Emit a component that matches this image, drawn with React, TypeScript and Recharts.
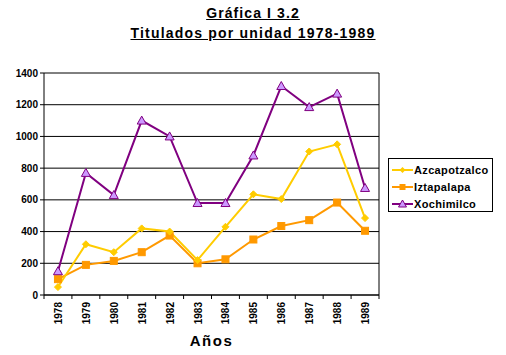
import React from "react";
import { LineChart, Line, XAxis, YAxis, CartesianGrid } from "recharts";

const years = ["1978","1979","1980","1981","1982","1983","1984","1985","1986","1987","1988","1989"];
const azcapotzalco = [50, 320, 270, 420, 400, 220, 430, 635, 605, 905, 950, 485];
const iztapalapa = [100, 190, 215, 270, 375, 200, 225, 350, 435, 472, 583, 405];
const xochimilco = [150, 770, 630, 1100, 1000, 580, 580, 880, 1318, 1185, 1270, 675];
const yTicks = [0, 200, 400, 600, 800, 1000, 1200, 1400];

const data = years.map((y, i) => ({
  year: y,
  Azcapotzalco: azcapotzalco[i],
  Iztapalapa: iztapalapa[i],
  Xochimilco: xochimilco[i],
}));

const FONT = "Arial, 'Liberation Sans', sans-serif";
const C_AZ = "#FFCC00";
const C_IZ = "#FF9900";
const C_XO = "#800080";
const C_XO_FILL = "#CC99FF";

const Diamond = (props: any) => {
  const { cx, cy } = props;
  if (cx == null || cy == null) return null;
  const r = 3.5;
  return <path d={`M${cx},${cy - r}L${cx + r},${cy}L${cx},${cy + r}L${cx - r},${cy}Z`} fill={C_AZ} stroke={C_AZ} strokeWidth={1} />;
};
const Square = (props: any) => {
  const { cx, cy } = props;
  if (cx == null || cy == null) return null;
  return <rect x={cx - 3.5} y={cy - 3.5} width={7} height={7} fill={C_IZ} stroke={C_IZ} />;
};
const Triangle = (props: any) => {
  const { cx, cy } = props;
  if (cx == null || cy == null) return null;
  return <path d={`M${cx},${cy - 4.5}L${cx + 4.5},${cy + 3.5}L${cx - 4.5},${cy + 3.5}Z`} fill={C_XO_FILL} stroke={C_XO} strokeWidth={1} />;
};

const XTick = (props: any) => {
  const { x, y, payload, index } = props;
  const half = payload?.offset ?? 14;
  return (
    <g>
      <line x1={x - half} y1={y - 8} x2={x - half} y2={y - 4} stroke="#000" />
      {index === years.length - 1 && (
        <line x1={x + half} y1={y - 8} x2={x + half} y2={y - 4} stroke="#000" />
      )}
      <text
        x={0}
        y={0}
        transform={`translate(${x + 4},${y - 1}) rotate(-90)`}
        textAnchor="end"
        fontFamily={FONT}
        fontWeight="bold"
        fontSize={10}
        fill="#000"
      >
        {payload.value}
      </text>
    </g>
  );
};

const legendItems = [
  { name: "Azcapotzalco", color: C_AZ, shape: "diamond" },
  { name: "Iztapalapa", color: C_IZ, shape: "square" },
  { name: "Xochimilco", color: C_XO, shape: "triangle" },
];

const LegendBox = () => (
  <div
    style={{
      position: "absolute",
      left: 388,
      top: 158,
      width: 103,
      height: 52,
      border: "1px solid #000",
      background: "#fff",
      fontFamily: FONT,
      fontWeight: "bold",
      fontSize: 11,
      letterSpacing: 0.35,
      whiteSpace: "nowrap",
    }}
  >
    {legendItems.map((it, i) => (
      <div key={it.name} style={{ position: "absolute", left: 3, top: 4 + i * 17, height: 14, display: "flex", alignItems: "center" }}>
        <svg width={21} height={12} style={{ marginRight: 1 }}>
          <line x1={0} y1={6} x2={21} y2={6} stroke={it.color} strokeWidth={2} />
          {it.shape === "diamond" && <path d="M10.5,3L13.5,6L10.5,9L7.5,6Z" fill={C_AZ} />}
          {it.shape === "square" && <rect x={7.5} y={3} width={6} height={6} fill={C_IZ} />}
          {it.shape === "triangle" && <path d="M10.5,2L14.5,9L6.5,9Z" fill={C_XO_FILL} stroke={C_XO} strokeWidth={1} />}
        </svg>
        <span style={{ lineHeight: "14px" }}>{it.name}</span>
      </div>
    ))}
  </div>
);

export default function App() {
  return (
    <div style={{ position: "absolute", left: 0, top: 0, width: 506, height: 355, background: "#fff", overflow: "hidden" }}>
      <div style={{ position: "absolute", left: 0, top: 5, width: 506, textAlign: "center", fontFamily: FONT, fontWeight: "bold", fontSize: 14, textDecoration: "underline", letterSpacing: 1.1 }}>
        Gráfica I 3.2
      </div>
      <div style={{ position: "absolute", left: 0, top: 25, width: 506, textAlign: "center", fontFamily: FONT, fontWeight: "bold", fontSize: 14, textDecoration: "underline", letterSpacing: 1.2 }}>
        Titulados por unidad 1978-1989
      </div>
      <div style={{ position: "absolute", left: 0, top: 0 }}>
        <LineChart width={506} height={355} data={data} margin={{ top: 73, right: 127, bottom: 0, left: 4 }}>
          <CartesianGrid
            yAxisId="l"
            stroke="#000"
            strokeOpacity={1}
            verticalCoordinatesGenerator={(p: any) => [p.offset.left + p.offset.width]}
          />
          <XAxis
            dataKey="year"
            scale="band"
            interval={0}
            height={60}
            axisLine={{ stroke: "#000" }}
            tickLine={false}
            tick={<XTick />}
            label={{ value: "Años", position: "insideBottom", offset: 9, style: { fontFamily: FONT, fontWeight: "bold", fontSize: 15, fill: "#000", letterSpacing: 1.5 } }}
          />
          <YAxis
            yAxisId="l"
            domain={[0, 1400]}
            ticks={yTicks}
            interval={0}
            width={40}
            axisLine={{ stroke: "#000" }}
            tickLine={{ stroke: "#000" }}
            tickSize={4}
            tick={{ fontFamily: FONT, fontWeight: "bold", fontSize: 10, fill: "#000" }}
          />
          <Line yAxisId="l" type="linear" dataKey="Iztapalapa" stroke={C_IZ} strokeWidth={2} dot={<Square />} isAnimationActive={false} />
          <Line yAxisId="l" type="linear" dataKey="Azcapotzalco" stroke={C_AZ} strokeWidth={2} dot={<Diamond />} isAnimationActive={false} />
          <Line yAxisId="l" type="linear" dataKey="Xochimilco" stroke={C_XO} strokeWidth={2} dot={<Triangle />} isAnimationActive={false} />
        </LineChart>
      </div>
      <LegendBox />
    </div>
  );
}
